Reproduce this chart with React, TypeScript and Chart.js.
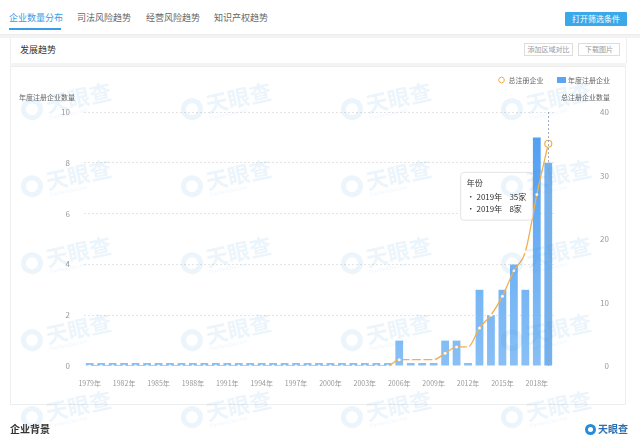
import React, { useEffect, useRef } from 'react';
import { Chart, registerables, Tooltip } from 'chart.js';

Chart.register(...registerables);

const years = [
  '1979年', '1980年', '1981年', '1982年', '1983年', '1984年', '1985年', '1986年', '1987年', '1988年',
  '1989年', '1990年', '1991年', '1992年', '1993年', '1994年', '1995年', '1996年', '1997年', '1998年',
  '1999年', '2000年', '2001年', '2002年', '2003年', '2004年', '2005年', '2006年', '2007年', '2008年',
  '2009年', '2010年', '2011年', '2012年', '2013年', '2014年', '2015年', '2016年', '2017年', '2018年',
  '2019年',
];

// 年度注册企业 (left axis)
const annualCount = [
  0, 0, 0, 0, 0, 0, 0, 0, 0, 0,
  0, 0, 0, 0, 0, 0, 0, 0, 0, 0,
  0, 0, 0, 0, 0, 0, 0, 1, 0, 0,
  0, 1, 1, 0, 3, 2, 3, 4, 3, 9,
  8,
];

// 总注册企业 (right axis)
const totalCount = [
  0, 0, 0, 0, 0, 0, 0, 0, 0, 0,
  0, 0, 0, 0, 0, 0, 0, 0, 0, 0,
  0, 0, 0, 0, 0, 0, 0, 1, 1, 1,
  1, 2, 3, 3, 6, 8, 11, 15, 18, 27,
  35,
];

const shownYearLabels = [
  '1979年', '1982年', '1985年', '1988年', '1991年', '1994年', '1997年',
  '2000年', '2003年', '2006年', '2009年', '2012年', '2015年', '2018年',
];
const leftTicks = [0, 2, 4, 6, 8, 10];
const rightTicks = [0, 10, 20, 30, 40];

const seriesNames = ['总注册企业', '年度注册企业'];
const axisNames = ['年度注册企业数量', '总注册企业数量'];
const tabs = ['企业数量分布', '司法风险趋势', '经营风险趋势', '知识产权趋势'];

const LINE_COLOR = '#f1b04e';
const BAR_TOP = '#4d9cf2';
const BAR_BOTTOM = '#88c0f6';
const FONT = '"Noto Sans CJK SC", "Noto Sans", sans-serif';
const LEGEND_PAD = 14;

(Tooltip.positioners as any).leftOfPoint = function (elements: any[]) {
  if (!elements || !elements.length) return false;
  const xs = elements.map((e: any) => e.element.x);
  const ys = elements.map((e: any) => e.element.y);
  const x = Math.min(...xs);
  const y = (Math.min(...ys) + Math.max(...ys)) / 2;
  return { x: x - 16, y: y + 43, xAlign: 'right', yAlign: 'center' };
};

// keep the legend at the very top of the panel, apart from the plot
const legendPlacePlugin = {
  id: 'legendPlace',
  afterLayout(chart: any) {
    const lg = chart.legend;
    if (!lg) return;
    const wantTop = 14 - 3.5 - LEGEND_PAD;
    const dy = wantTop - lg.top;
    lg.top += dy;
    lg.bottom += dy;
    lg.right = chart.width - 2;
  },
};

const axisNamePlugin = {
  id: 'axisNames',
  afterDraw(chart: any) {
    const { ctx, chartArea, scales } = chart;
    ctx.save();
    ctx.font = `7px ${FONT}`;
    ctx.fillStyle = '#666';
    ctx.textBaseline = 'middle';
    ctx.textAlign = 'right';
    ctx.fillText(axisNames[0], scales.y.right - 9, chartArea.top - 15);
    ctx.fillText(axisNames[1], scales.y1.right + 1, chartArea.top - 15);
    ctx.restore();
  },
};

const pointerPlugin = {
  id: 'axisPointer',
  afterDatasetsDraw(chart: any) {
    const active = chart.tooltip && chart.tooltip.getActiveElements();
    if (!active || !active.length) return;
    const { ctx, chartArea } = chart;
    const x = active[0].element.x;
    ctx.save();
    ctx.strokeStyle = 'rgba(150,165,185,0.9)';
    ctx.lineWidth = 1;
    ctx.setLineDash([2, 2]);
    ctx.beginPath();
    ctx.moveTo(Math.round(x) + 0.5, chartArea.top);
    ctx.lineTo(Math.round(x) + 0.5, chartArea.bottom);
    ctx.stroke();
    ctx.restore();
  },
};

function makeRectStyle() {
  const c = document.createElement('canvas');
  c.width = 9;
  c.height = 6;
  const g = c.getContext('2d')!;
  g.fillStyle = '#5aa6f4';
  g.fillRect(0, 0, 9, 6);
  return c;
}

function ChartPanel() {
  const ref = useRef<HTMLCanvasElement>(null);
  useEffect(() => {
    if (!ref.current) return;
    const rectStyle = makeRectStyle();
    const chart = new Chart(ref.current, {
      type: 'bar',
      data: {
        labels: years,
        datasets: [
          {
            type: 'line',
            label: seriesNames[0],
            data: totalCount,
            yAxisID: 'y1',
            order: 0,
            borderColor: LINE_COLOR,
            borderWidth: 1.3,
            cubicInterpolationMode: 'monotone',
            pointRadius: 1.5,
            pointBorderWidth: 0,
            pointBackgroundColor: 'rgba(255,255,255,0.9)',
            pointHoverRadius: 3.5,
            pointHoverBorderWidth: 1.2,
            pointHoverBorderColor: LINE_COLOR,
            pointHoverBackgroundColor: '#fff',
          } as any,
          {
            type: 'bar',
            label: seriesNames[1],
            data: annualCount,
            yAxisID: 'y',
            order: 1,
            minBarLength: 3,
            barPercentage: 0.85,
            categoryPercentage: 0.8,
            backgroundColor: (c: any) => {
              const area = c.chart.chartArea;
              if (!area) return BAR_TOP;
              const g = c.chart.ctx.createLinearGradient(0, area.top, 0, area.bottom);
              g.addColorStop(0, BAR_TOP);
              g.addColorStop(1, BAR_BOTTOM);
              return g;
            },
            hoverBackgroundColor: '#6fb3f6',
          } as any,
        ],
      },
      options: {
        responsive: true,
        maintainAspectRatio: false,
        animation: false,
        devicePixelRatio: 1,
        layout: { padding: { top: 0, left: 0, right: 17, bottom: 0 } },
        interaction: { mode: 'index', intersect: false },
        events: [],
        scales: {
          x: {
            offset: true,
            grid: { display: false, drawTicks: false },
            border: { display: false },
            ticks: {
              autoSkip: false,
              maxRotation: 0,
              padding: 13,
              color: '#999',
              font: { size: 7, family: FONT },
              callback: function (this: any, v: any) {
                const lab = this.getLabelForValue(v);
                return shownYearLabels.includes(lab) ? lab : '';
              },
            },
            afterFit(s: any) { s.height = 39; },
          },
          y: {
            position: 'left',
            min: leftTicks[0],
            max: leftTicks[leftTicks.length - 1],
            afterBuildTicks(s: any) { s.ticks = leftTicks.map((v) => ({ value: v })); },
            grid: {
              drawTicks: false,
              color: (c: any) => (c.tick && c.tick.value === 0 ? 'rgba(0,0,0,0)' : '#e4e4e4'),
            },
            border: { display: false, dash: [2, 2] },
            ticks: { padding: 14, color: '#999', font: { size: 8, family: FONT } },
            afterFit(s: any) { s.width = 74; s.paddingTop = 46; s.paddingBottom = 0; },
          },
          y1: {
            position: 'right',
            min: rightTicks[0],
            max: rightTicks[rightTicks.length - 1],
            afterBuildTicks(s: any) { s.ticks = rightTicks.map((v) => ({ value: v })); },
            grid: { display: false, drawTicks: false },
            border: { display: false },
            ticks: { padding: 4, crossAlign: 'far', color: '#999', font: { size: 8, family: FONT } },
            afterFit(s: any) { s.width = 55; s.paddingTop = 46; s.paddingBottom = 0; },
          },
        },
        plugins: {
          legend: {
            position: 'top',
            align: 'end',
            labels: {
              usePointStyle: true,
              boxHeight: 4,
              boxWidth: 7,
              padding: LEGEND_PAD,
              color: '#666',
              font: { size: 7, family: FONT },
              generateLabels: () => [
                { text: seriesNames[0], pointStyle: 'circle', fillStyle: '#fff', strokeStyle: LINE_COLOR, lineWidth: 1, datasetIndex: 0, hidden: false, fontColor: '#666' } as any,
                { text: seriesNames[1], pointStyle: rectStyle, fillStyle: '#5aa6f4', strokeStyle: '#5aa6f4', lineWidth: 0, datasetIndex: 1, hidden: false, fontColor: '#666' } as any,
              ],
            },
          },
          tooltip: {
            position: 'leftOfPoint' as any,
            backgroundColor: 'rgba(255,255,255,0.97)',
            borderColor: '#e3e3e3',
            borderWidth: 1,
            cornerRadius: 3,
            caretSize: 0,
            caretPadding: 0,
            displayColors: false,
            titleColor: '#333',
            bodyColor: '#333',
            titleFont: { size: 8, weight: 'normal', family: FONT },
            bodyFont: { size: 8, family: FONT },
            padding: { x: 6, y: 6 },
            titleMarginBottom: 4,
            bodySpacing: 3,
            callbacks: {
              title: () => '年份',
              label: (item: any) => `· ${item.label}    ${item.raw}家`,
            },
          },
        },
      } as any,
      plugins: [legendPlacePlugin, axisNamePlugin, pointerPlugin],
    });
    const last = years.length - 1;
    const act = [
      { datasetIndex: 0, index: last },
      { datasetIndex: 1, index: last },
    ];
    chart.setActiveElements(act);
    chart.tooltip!.setActiveElements(act, { x: 0, y: 0 });
    chart.update();
    return () => chart.destroy();
  }, []);
  return (
    <div style={{ position: 'relative', width: 616, height: 339 }}>
      <canvas ref={ref} />
    </div>
  );
}

function Watermarks() {
  const cols = [75, 235, 395, 555];
  const rows = [100, 177, 254, 331, 408];
  const items: any[] = [];
  rows.forEach((r, ri) =>
    cols.forEach((c, ci) => {
      items.push(
        <div
          key={`${ri}-${ci}`}
          style={{
            position: 'absolute',
            left: c - 55,
            top: r - 18,
            width: 110,
            height: 36,
            transform: 'rotate(-12deg)',
            opacity: 0.09,
            color: '#2b8ad6',
            display: 'flex',
            alignItems: 'center',
          }}
        >
          <div style={{ width: 22, height: 22, borderRadius: 11, border: '5px solid #2b8ad6', boxSizing: 'border-box', marginRight: 4 }} />
          <div>
            <div style={{ fontSize: 22, fontWeight: 700, lineHeight: '24px' }}>天眼查</div>
            <div style={{ fontSize: 5, lineHeight: '6px' }}>TianYanCha.com</div>
          </div>
        </div>
      );
    })
  );
  return <div style={{ position: 'absolute', left: 0, top: 0, width: 640, height: 441, pointerEvents: 'none' }}>{items}</div>;
}

export default function App() {
  useEffect(() => {
    document.body.style.margin = '0';
  }, []);
  return (
    <div style={{ position: 'relative', width: 640, height: 441, background: '#fff', overflow: 'hidden', fontFamily: FONT }}>
      {/* tab bar */}
      <div style={{ position: 'absolute', left: 0, top: 0, width: 640, height: 34, background: '#fff', borderBottom: '1px solid #ececec' }} />
      {tabs.map((t, i) => (
        <div
          key={t}
          style={{
            position: 'absolute',
            left: [9, 77, 146, 214][i],
            top: 12,
            fontSize: 9,
            lineHeight: '12px',
            color: i === 0 ? '#3a9de6' : '#666',
            whiteSpace: 'nowrap',
          }}
        >
          {t}
        </div>
      ))}
      <div style={{ position: 'absolute', left: 9, top: 28, width: 52, height: 2, background: '#3a9de6' }} />
      <div
        style={{
          position: 'absolute', left: 565, top: 12, width: 62, height: 14, background: '#3aa9e9',
          color: '#fff', fontSize: 8, lineHeight: '14px', textAlign: 'center', borderRadius: 1,
        }}
      >
        打开筛选条件
      </div>
      <div style={{ position: 'absolute', left: 0, top: 35, width: 640, height: 3, background: '#f3f3f3' }} />
      {/* header card */}
      <div style={{ position: 'absolute', left: 10, top: 38, width: 615, height: 25, background: '#fff', borderLeft: '1px solid #eee', borderRight: '1px solid #eee' }} />
      <div style={{ position: 'absolute', left: 20, top: 44, fontSize: 9, lineHeight: '12px', color: '#333' }}>发展趋势</div>
      <div style={{ position: 'absolute', left: 524, top: 43, width: 49, height: 13, border: '1px solid #ddd', boxSizing: 'border-box', fontSize: 7, lineHeight: '11px', textAlign: 'center', color: '#999' }}>添加区域对比</div>
      <div style={{ position: 'absolute', left: 578, top: 43, width: 42, height: 13, border: '1px solid #ddd', boxSizing: 'border-box', fontSize: 7, lineHeight: '11px', textAlign: 'center', color: '#999' }}>下载图片</div>
      <div style={{ position: 'absolute', left: 10, top: 63, width: 616, height: 3, background: '#f4f4f4' }} />
      {/* chart card */}
      <div style={{ position: 'absolute', left: 10, top: 66, width: 616, height: 339, border: '1px solid #eee', boxSizing: 'border-box' }} />
      <div style={{ position: 'absolute', left: 10, top: 66 }}>
        <ChartPanel />
      </div>
      <Watermarks />
      {/* bottom section */}
      <div style={{ position: 'absolute', left: 10, top: 422, fontSize: 10, lineHeight: '14px', fontWeight: 700, color: '#333' }}>企业背景</div>
      <div style={{ position: 'absolute', left: 585, top: 423, display: 'flex', alignItems: 'center', color: '#1a7fd0' }}>
        <div style={{ width: 11, height: 11, borderRadius: 6, border: '3px solid #2b8ad6', boxSizing: 'border-box', marginRight: 2 }} />
        <div style={{ fontSize: 10, fontWeight: 700, lineHeight: '12px', color: '#2a6fb0' }}>天眼查</div>
      </div>
    </div>
  );
}
